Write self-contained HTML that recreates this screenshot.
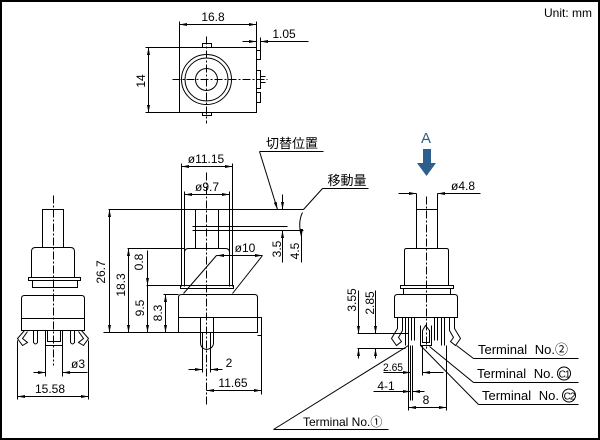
<!DOCTYPE html>
<html><head><meta charset="utf-8"><style>
html,body{margin:0;padding:0;background:#fff;}
svg{display:block;}
text{font-family:"Liberation Sans","Noto Sans CJK JP",sans-serif;fill:#000;}
.jp{font-family:"Liberation Sans","Noto Sans CJK JP",sans-serif;}
</style></head><body>
<svg width="600" height="440" viewBox="0 0 600 440" xmlns="http://www.w3.org/2000/svg">
<defs>
<marker id="a" viewBox="0 0 10 4" refX="10" refY="2" markerWidth="8" markerHeight="3" orient="auto-start-reverse" markerUnits="userSpaceOnUse"><path d="M0,0 L10,2 L0,4 z" fill="#000"/></marker>
</defs>
<rect x="1" y="1" width="598" height="438" fill="#fff" stroke="#000" stroke-width="2"/>
<text x="592" y="17" font-size="12" text-anchor="end">Unit: mm</text>

<g fill="none" stroke="#000" stroke-width="1" transform="translate(0.5,0.5)">
<!-- ===== TOP VIEW ===== -->
<rect x="179" y="47" width="77" height="65"/>
<rect x="202" y="43" width="9" height="4"/>
<rect x="202" y="112" width="9" height="3"/>
<circle cx="206" cy="79" r="25"/>
<circle cx="206" cy="79" r="21.5"/>
<circle cx="206" cy="79" r="11"/>
<rect x="256" y="50" width="4" height="9"/>
<rect x="256" y="70" width="4" height="18"/>
<rect x="256" y="92" width="4" height="10"/>
<line x1="260" y1="76" x2="265" y2="76"/>
<line x1="260" y1="82" x2="265" y2="82"/>
<g stroke-dasharray="8 2 2 2">
<line x1="172" y1="79" x2="267" y2="79"/>
<line x1="206" y1="36" x2="206" y2="123"/>
</g>
<!-- 16.8 -->
<line x1="179" y1="21" x2="179" y2="47"/>
<line x1="256" y1="21" x2="256" y2="47"/>
<line x1="179" y1="24" x2="256" y2="24" marker-start="url(#a)" marker-end="url(#a)"/>
<!-- 1.05 -->
<line x1="260" y1="37" x2="260" y2="50"/>
<line x1="242" y1="41" x2="256" y2="41" marker-end="url(#a)"/>
<line x1="308" y1="41" x2="260" y2="41" marker-end="url(#a)"/>
<!-- 14 -->
<line x1="145" y1="47" x2="179" y2="47"/>
<line x1="145" y1="112" x2="179" y2="112"/>
<line x1="148" y1="47" x2="148" y2="112" marker-start="url(#a)" marker-end="url(#a)"/>

<!-- ===== MIDDLE (FRONT) VIEW ===== -->
<line x1="181" y1="163" x2="181" y2="286"/>
<line x1="232" y1="163" x2="232" y2="286"/>
<line x1="181" y1="166" x2="232" y2="166" marker-start="url(#a)" marker-end="url(#a)"/>
<line x1="184" y1="191" x2="184" y2="286"/>
<line x1="229" y1="191" x2="229" y2="286"/>
<line x1="184" y1="194" x2="229" y2="194" marker-start="url(#a)" marker-end="url(#a)"/>
<rect x="195" y="209" width="23" height="39"/>
<path d="M184,252 Q184,248 188,248 L225,248 Q229,248 229,252"/>
<line x1="108" y1="209" x2="195" y2="209"/>
<line x1="218" y1="209" x2="303" y2="209"/>
<line x1="192" y1="226" x2="287" y2="226"/>
<line x1="192" y1="230" x2="303" y2="230"/>
<line x1="216" y1="255" x2="183" y2="293"/>
<line x1="262" y1="255" x2="232" y2="293"/>
<line x1="236" y1="255" x2="216" y2="255" marker-end="url(#a)"/>
<line x1="236" y1="255" x2="262" y2="255" marker-end="url(#a)"/>
<rect x="180" y="285" width="53" height="3"/>
<path d="M178,332 L178,297 Q178,294 181,294 L254,294 Q257,294 257,297 L257,332 Z"/>
<line x1="178" y1="317" x2="257" y2="317"/>
<path d="M257,317 L261,317 L261,335 L257,335"/>
<path d="M200,317 L200,342 Q200,348 206,349 Q213,348 213,342 L213,317"/>
<line x1="202" y1="332" x2="202" y2="372"/>
<line x1="210" y1="332" x2="210" y2="372"/>
<line x1="206" y1="172" x2="206" y2="405" stroke-dasharray="8 2 2 2"/>
<line x1="127" y1="248" x2="184" y2="248"/>
<line x1="146" y1="285" x2="180" y2="285"/>
<line x1="163" y1="294" x2="178" y2="294"/>
<line x1="103" y1="332" x2="178" y2="332"/>
<line x1="109" y1="209" x2="109" y2="332" marker-start="url(#a)" marker-end="url(#a)"/>
<line x1="128" y1="248" x2="128" y2="332" marker-start="url(#a)" marker-end="url(#a)"/>
<line x1="147" y1="250" x2="147" y2="285" marker-end="url(#a)"/>
<line x1="147" y1="285" x2="147" y2="332" marker-end="url(#a)"/>
<line x1="165" y1="294" x2="165" y2="332" marker-start="url(#a)" marker-end="url(#a)"/>
<line x1="188" y1="369" x2="202" y2="369" marker-end="url(#a)"/>
<line x1="222" y1="369" x2="210" y2="369" marker-end="url(#a)"/>
<line x1="261" y1="335" x2="261" y2="394"/>
<line x1="206" y1="390" x2="261" y2="390" marker-start="url(#a)" marker-end="url(#a)"/>
<line x1="259" y1="151" x2="323" y2="151"/>
<line x1="259" y1="151" x2="277" y2="209" marker-end="url(#a)"/>
<line x1="282" y1="194" x2="282" y2="209" marker-end="url(#a)"/>
<line x1="282" y1="262" x2="282" y2="230" marker-end="url(#a)"/>
<line x1="322" y1="188" x2="368" y2="188"/>
<line x1="322" y1="188" x2="303" y2="209"/>
<path d="M302,212 Q297,222 301,236" />
<line x1="301" y1="236" x2="301" y2="262"/>
<line x1="301" y1="230" x2="301" y2="236" marker-end="url(#a)"/>

<!-- ===== LEFT VIEW ===== -->
<rect x="42" y="209" width="21" height="38"/>
<path d="M31,277 L31,251 Q31,247 35,247 L70,247 Q74,247 74,251 L74,277"/>
<rect x="28" y="277" width="52" height="3"/>
<rect x="32" y="280" width="45" height="7"/>
<path d="M21,330 L21,298 Q21,295 24,295 L81,295 Q84,295 84,298 L84,330 Z"/>
<line x1="21" y1="318" x2="84" y2="318"/>
<path d="M24,330 L17,338 L22,345 L27,342 L22,338 L27,331"/>
<path d="M81,330 L88,338 L83,345 L78,342 L83,338 L78,331"/>
<path d="M33,330 L33,342 Q35,345 37,342 L37,330"/>
<path d="M70,330 L70,342 Q72,345 74,342 L74,330"/>
<rect x="45" y="330" width="17" height="15"/>
<rect x="47" y="330" width="13" height="11"/>
<line x1="53" y1="195" x2="53" y2="365" stroke-dasharray="8 2 2 2"/>
<line x1="45" y1="345" x2="45" y2="376"/>
<line x1="62" y1="345" x2="62" y2="376"/>
<line x1="33" y1="372" x2="45" y2="372" marker-end="url(#a)"/>
<line x1="87" y1="372" x2="62" y2="372" marker-end="url(#a)"/>
<line x1="17" y1="340" x2="17" y2="399"/>
<line x1="88" y1="340" x2="88" y2="399"/>
<line x1="17" y1="396" x2="88" y2="396" marker-start="url(#a)" marker-end="url(#a)"/>

<!-- ===== RIGHT VIEW ===== -->
<line x1="398" y1="193" x2="416" y2="193" marker-end="url(#a)"/>
<line x1="480" y1="193" x2="437" y2="193" marker-end="url(#a)"/>
<line x1="416" y1="193" x2="416" y2="209"/>
<line x1="437" y1="193" x2="437" y2="209"/>
<rect x="416" y="209" width="21" height="39"/>
<path d="M404,285 L404,250 Q404,248 406,248 L446,248 Q448,248 448,250 L448,285"/>
<rect x="400" y="285" width="53" height="3"/>
<rect x="403" y="288" width="47" height="6"/>
<path d="M394,317 L394,297 Q394,294 397,294 L454,294 Q457,294 457,297 L457,317 Z"/>
<line x1="394" y1="317" x2="457" y2="317"/>
<path d="M397,317 L397,328 L391,338 L396,345 L401,341 L398,337 L402,330 L402,317"/>
<path d="M454,317 L454,328 L460,338 L455,345 L450,341 L453,337 L449,330 L449,317"/>
<line x1="405" y1="317" x2="405" y2="345"/>
<line x1="408" y1="317" x2="408" y2="345"/>
<line x1="411" y1="317" x2="411" y2="340"/>
<line x1="414" y1="317" x2="414" y2="340"/>
<path d="M420,325 L420,345 L431,345 L431,325 M422,330 L425,325 L429,330 L429,342 L422,342 Z"/>
<line x1="434" y1="317" x2="434" y2="340"/>
<line x1="437" y1="317" x2="437" y2="340"/>
<line x1="441" y1="317" x2="441" y2="345"/>
<line x1="444" y1="317" x2="444" y2="345"/>
<line x1="426" y1="196" x2="426" y2="350" stroke-dasharray="8 2 2 2"/>
<line x1="357" y1="333" x2="408" y2="333"/>
<line x1="357" y1="348" x2="405" y2="348"/>
<line x1="358" y1="290" x2="358" y2="333" marker-end="url(#a)"/>
<line x1="358" y1="358" x2="358" y2="348" marker-end="url(#a)"/>
<line x1="375" y1="290" x2="375" y2="333" marker-end="url(#a)"/>
<line x1="375" y1="358" x2="375" y2="348" marker-end="url(#a)"/>
<line x1="408" y1="345" x2="408" y2="410"/>
<line x1="410" y1="345" x2="410" y2="400"/>
<line x1="412" y1="345" x2="412" y2="400"/>
<line x1="422" y1="345" x2="422" y2="375"/>
<line x1="446" y1="345" x2="446" y2="410"/>
<line x1="383" y1="372" x2="410" y2="372" marker-end="url(#a)"/>
<line x1="443" y1="372" x2="422" y2="372" marker-end="url(#a)"/>
<line x1="373" y1="391" x2="410" y2="391" marker-end="url(#a)"/>
<line x1="424" y1="391" x2="412" y2="391" marker-end="url(#a)"/>
<line x1="408" y1="407" x2="446" y2="407" marker-start="url(#a)" marker-end="url(#a)"/>
<line x1="408" y1="345" x2="273" y2="429"/>
<line x1="273" y1="429" x2="388" y2="429"/>
<line x1="456" y1="345" x2="473" y2="358"/>
<line x1="473" y1="358" x2="578" y2="358"/>
<line x1="429" y1="346" x2="473" y2="382"/>
<line x1="473" y1="382" x2="578" y2="382"/>
<line x1="420" y1="345" x2="478" y2="404"/>
<line x1="478" y1="404" x2="578" y2="404"/>
</g>

<text x="426" y="143" font-size="15" text-anchor="middle" style="fill:#2d5e8c">A</text>
<path d="M423,149 L431,149 L431,163 L436,163 L426.5,176 L417,163 L423,163 Z" fill="#2d5e8c"/>

<g font-size="12">
<text x="213" y="21" text-anchor="middle">16.8</text>
<text x="284" y="38" text-anchor="middle">1.05</text>
<text transform="translate(145,81) rotate(-90)" text-anchor="middle">14</text>
<text x="206" y="163" text-anchor="middle">ø11.15</text>
<text x="207" y="191" text-anchor="middle">ø9.7</text>
<text x="245" y="252" text-anchor="middle">ø10</text>
<text transform="translate(105,272) rotate(-90)" text-anchor="middle">26.7</text>
<text transform="translate(125,285) rotate(-90)" text-anchor="middle">18.3</text>
<text transform="translate(143,262) rotate(-90)" text-anchor="middle">0.8</text>
<text transform="translate(144,308) rotate(-90)" text-anchor="middle">9.5</text>
<text transform="translate(162,313) rotate(-90)" text-anchor="middle">8.3</text>
<text transform="translate(281,249) rotate(-90)" text-anchor="middle">3.5</text>
<text transform="translate(299,251) rotate(-90)" text-anchor="middle">4.5</text>
<text x="229" y="367" text-anchor="middle">2</text>
<text x="233" y="387" text-anchor="middle">11.65</text>
<text x="78" y="368" text-anchor="middle">ø3</text>
<text x="50" y="393" text-anchor="middle">15.58</text>
<text x="463" y="190" text-anchor="middle">ø4.8</text>
<text transform="translate(356,300) rotate(-90)" text-anchor="middle">3.55</text>
<text transform="translate(374,303) rotate(-90)" text-anchor="middle">2.85</text>
<text x="393" y="371" text-anchor="middle" font-size="11" textLength="20" lengthAdjust="spacingAndGlyphs">2.65</text>
<text x="386" y="390" text-anchor="middle">4-1</text>
<text x="426" y="404" text-anchor="middle">8</text>
<text x="303" y="426">Terminal No.①</text>
<text x="478" y="354" font-size="13" word-spacing="4">Terminal No.②</text>
<text x="477" y="378" font-size="13" word-spacing="4">Terminal No.</text>
<text x="482" y="400" font-size="13" word-spacing="4">Terminal No.</text>
</g>
<g fill="none" stroke="#000" stroke-width="1">
<circle cx="564" cy="373.5" r="6.5"/>
<circle cx="569" cy="395.5" r="6.5"/>
</g>
<text x="564" y="377.5" font-size="10" text-anchor="middle" letter-spacing="-1">C1</text>
<text x="569" y="399.5" font-size="10" text-anchor="middle" letter-spacing="-1">C2</text>
<text x="292" y="148" font-size="13" text-anchor="middle" class="jp">切替位置</text>
<text x="347" y="185" font-size="13" text-anchor="middle" class="jp">移動量</text>
</svg>
</body></html>
